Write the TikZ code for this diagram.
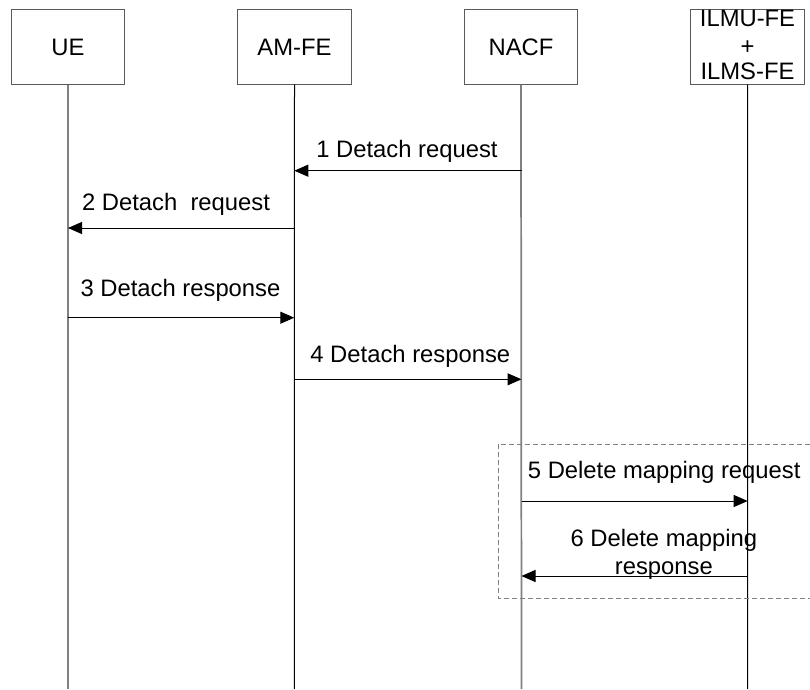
\documentclass[tikz,border=0pt]{standalone}
\usepackage{fontspec}
\setmainfont{Liberation Sans}
\usetikzlibrary{arrows.meta}
\definecolor{framegray}{RGB}{90,90,90}
\definecolor{softgray}{RGB}{128,128,128}
\begin{document}
\begin{tikzpicture}[x=0.75pt,y=-0.75pt,
  every node/.style={font=\fontsize{17.85}{19.7}\selectfont, inner sep=0pt, outer sep=0pt},
  entity/.style={draw=framegray, line width=0.75pt, minimum width=85pt, minimum height=56.6pt, align=center},
  lifeline/.style={line width=0.75pt, draw=black},
  softline/.style={line width=1.3pt, draw=softgray},
  msg/.style={line width=0.75pt, -{Triangle[length=10.5pt,width=9pt]}},
  msglabel/.style={anchor=base},
  groupbox/.style={draw=softgray, line width=0.75pt, dash pattern=on 3.75pt off 2.25pt}
]
\useasboundingbox (0,0) rectangle (810,689);

% participants
\node[entity] (ue)   at (68,47)    {UE};
\node[entity] (amfe) at (294.5,47) {AM-FE};
\node[entity] (nacf) at (521,47)   {NACF};
\node[entity] (ilm)  at (747.5,47) {};
\node[msglabel] (ilmu) at (747.5,26.7) {ILMU-FE};
\node[msglabel] (ilmplus) at (747.5,54.4) {+};
\node[msglabel] (ilms) at (747.5,79.3) {ILMS-FE};

% lifelines
\coordinate (ueEnd)   at (68,689);
\coordinate (amfeEnd) at (294.3,689);
\coordinate (nacfEnd) at (521.5,689);
\coordinate (ilmEnd)  at (747.7,689);
\draw[softline] (ue.south) -- (ueEnd);
\draw[lifeline] (amfe.south) -- (amfeEnd);
\draw[softline] (nacf.south) -- (nacfEnd);
\draw[lifeline] (ilm.south) -- (ilmEnd);

% message end points on the lifelines
\coordinate (n1) at (521.5,170.7); \coordinate (a1) at (294.3,170.7);
\coordinate (a2) at (294.3,228);   \coordinate (u2) at (68,228);
\coordinate (u3) at (68,317.7);    \coordinate (a3) at (294.3,317.7);
\coordinate (a4) at (294.3,379.3); \coordinate (n4) at (521.5,379.3);
\coordinate (n5) at (521.5,501);   \coordinate (i5) at (747.7,501);
\coordinate (i6) at (747.7,576);   \coordinate (n6) at (521.5,576);

% messages
\draw[msg] (n1) -- (a1);
\node[msglabel] (l1) at (407,157.7) {1 Detach request};
\draw[msg] (a2) -- (u2);
\node[msglabel] (l2) at (176,210) {2 Detach\ \ request};
\draw[msg] (u3) -- (a3);
\node[msglabel] (l3) at (180.5,296) {3 Detach response};
\draw[msg] (a4) -- (n4);
\node[msglabel] (l4) at (410.3,362.3) {4 Detach response};

% mapping group
\coordinate (g1) at (810,444);
\coordinate (g2) at (498.3,444);
\coordinate (g3) at (498.3,598.3);
\coordinate (g4) at (810,598.3);
\draw[groupbox] (g1) -- (g2) -- (g3) -- (g4);

\draw[msg] (n5) -- (i5);
\node[msglabel] (l5) at (664.2,478.3) {5 Delete mapping request};
\draw[msg] (i6) -- (n6);
\node[msglabel] (l6a) at (663.8,546) {6 Delete mapping};
\node[msglabel] (l6b) at (663.8,574) {response};
\end{tikzpicture}
\end{document}
